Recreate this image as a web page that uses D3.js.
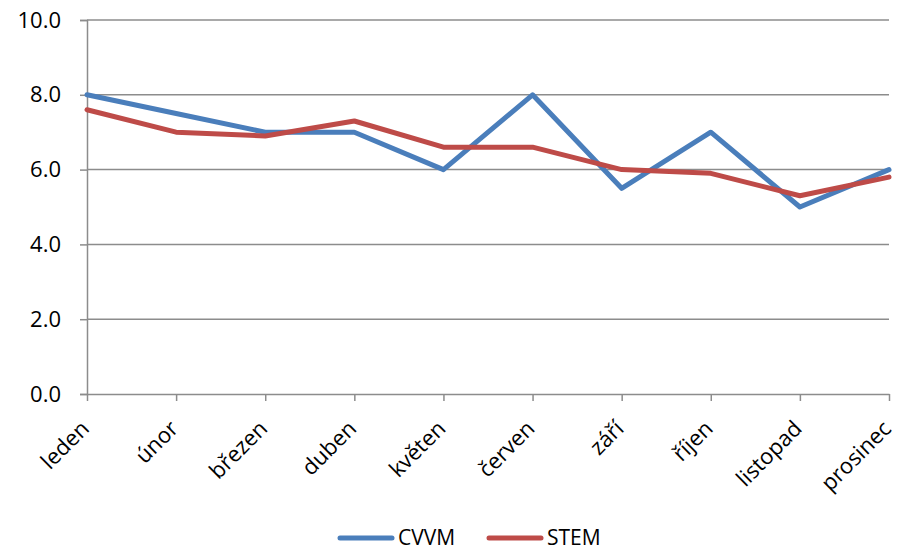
<!DOCTYPE html>
<html>
<head>
<meta charset="utf-8">
<script src="https://cdn.jsdelivr.net/npm/d3@7"></script>
<style>
  body { margin: 0; background: #fff; }
  text { font-family: "Open Sans", "Liberation Sans", sans-serif; fill: #000; }
</style>
</head>
<body>
<div id="chart"></div>
<script>
// data
const months = ['leden', 'únor', 'březen', 'duben', 'květen', 'červen', 'září', 'říjen', 'listopad', 'prosinec']
const cvvm = [8.0, 7.5, 7.0, 7.0, 6.0, 8.0, 5.5, 7.0, 5.0, 6.0]
const stem = [7.6, 7.0, 6.9, 7.3, 6.6, 6.6, 6.0, 5.9, 5.3, 5.8]
const yTicks = [0, 2, 4, 6, 8, 10]
const seriesNames = ['CVVM', 'STEM']
const colors = ['#4a7ebb', '#be4b48']

const width = 898, height = 552
const margin = { left: 87, right: 9, top: 20, bottom: 158 }
const fontFam = '"Open Sans", "Liberation Sans", sans-serif'
const fontSize = 22

const svg = d3.select('#chart').append('svg')
    .attr('width', width)
    .attr('height', height)

const x = d3.scalePoint()
    .domain(months)
    .range([margin.left, width - margin.right])

const y = d3.scaleLinear()
    .domain([0, 10])
    .range([height - margin.bottom, margin.top])

// horizontal grid
svg.selectAll('.grid')
    .data(yTicks.filter(d => d > 0))
    .enter().append('line')
    .attr('x1', margin.left)
    .attr('x2', width - margin.right)
    .attr('y1', d => y(d))
    .attr('y2', d => y(d))
    .attr('stroke', '#8c8c8c')
    .attr('stroke-width', 1.5)

// y axis
const yAxis = svg.append('g')
    .attr('transform', `translate(${margin.left},0)`)
    .call(d3.axisLeft(y).tickValues(yTicks).tickFormat(d3.format('.1f')).tickSize(7).tickPadding(19))
yAxis.select('.domain').attr('stroke', '#8c8c8c').attr('stroke-width', 1.5)
yAxis.selectAll('.tick line').attr('stroke', '#8c8c8c').attr('stroke-width', 1.5)
yAxis.selectAll('.tick text')
    .attr('font-size', fontSize)
    .style('font-family', fontFam)

// x axis, labels rotated
const xAxis = svg.append('g')
    .attr('transform', `translate(0,${y(0)})`)
    .call(d3.axisBottom(x).tickSize(7).tickSizeOuter(0))
xAxis.select('.domain').attr('stroke', '#8c8c8c').attr('stroke-width', 1.5)
xAxis.selectAll('.tick line').attr('stroke', '#8c8c8c').attr('stroke-width', 1.5)
xAxis.selectAll('.tick text')
    .attr('font-size', fontSize)
    .style('font-family', fontFam)
    .attr('text-anchor', 'end')
    .attr('x', 0)
    .attr('y', 0)
    .attr('dy', 0)
    .attr('transform', 'translate(3,36) rotate(-45)')

// lines
const line = d3.line()
    .x((d, i) => x(months[i]))
    .y(d => y(d))

;[cvvm, stem].forEach((s, i) => {
    svg.append('path')
        .datum(s)
        .attr('fill', 'none')
        .attr('stroke', colors[i])
        .attr('stroke-width', 5)
        .attr('stroke-linejoin', 'round')
        .attr('stroke-linecap', 'round')
        .attr('d', line)
})

// legend
const legend = svg.selectAll('.legend')
    .data(seriesNames)
    .enter().append('g')
    .attr('class', 'legend')
    .attr('transform', (d, i) => `translate(${340 + i * 149}, 538)`)
legend.append('line')
    .attr('x1', 0).attr('x2', 52)
    .attr('stroke', (d, i) => colors[i])
    .attr('stroke-width', 5)
    .attr('stroke-linecap', 'round')
legend.append('text')
    .text(d => d)
    .attr('x', 58)
    .attr('dy', '0.35em')
    .attr('font-size', 21)
</script>
</body>
</html>
